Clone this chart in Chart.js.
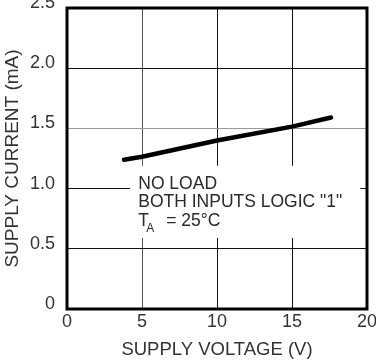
<!DOCTYPE html>
<html>
<head>
<meta charset="utf-8">
<script src="https://cdn.jsdelivr.net/npm/chart.js@4.4.1/dist/chart.umd.min.js"></script>
<style>
  html, body { margin: 0; padding: 0; background: #fff; }
  #wrap { position: relative; width: 376px; height: 360px; }
</style>
</head>
<body>
<div id="wrap"><canvas id="chart"></canvas></div>
<script>
// supply current vs supply voltage
const voltage = [3.8, 5, 10, 15, 17.6];
const current = [1.24, 1.265, 1.40, 1.515, 1.59];

const xTicks = ['0', '5', '10', '15', '20'];
const yTicks = ['0', '0.5', '1.0', '1.5', '2.0', '2.5'];

const noteLines = ['NO LOAD', 'BOTH INPUTS LOGIC "1"'];
const noteTemp = ['T', 'A', '= 25°C'];

const FAMILY = "'Liberation Sans', Arial, sans-serif";

// white label box with the test conditions + heavy frame round the plot
const framePlugin = {
  id: 'frame',
  beforeDatasetsDraw(chart) {
    const { ctx, scales: { x, y } } = chart;
    const l = x.getPixelForValue(4.2), r = x.getPixelForValue(19.55);
    const t = y.getPixelForValue(1.19), b = y.getPixelForValue(0.59);
    ctx.save();
    ctx.fillStyle = '#fff';
    ctx.fillRect(l, t, r - l, b - t);

    ctx.fillStyle = '#2a2a2a';
    ctx.textBaseline = 'alphabetic';
    ctx.textAlign = 'left';
    ctx.font = '17.5px ' + FAMILY;
    const tx = x.getPixelForValue(4.75);
    let ty = y.getPixelForValue(1.0);
    noteLines.forEach(s => { ctx.fillText(s, tx, ty); ty += 18.5; });
    ctx.fillText(noteTemp[0], tx, ty);
    ctx.font = '12px ' + FAMILY;
    ctx.fillText(noteTemp[1], tx + 8, ty + 6);
    ctx.font = '17.5px ' + FAMILY;
    ctx.fillText(noteTemp[2], tx + 28, ty);
    ctx.restore();
  },
  afterDatasetsDraw(chart) {
    const { ctx, chartArea: a } = chart;
    ctx.save();
    ctx.lineWidth = 3;
    ctx.strokeStyle = '#000';
    ctx.strokeRect(a.left, a.top, a.right - a.left, a.bottom - a.top);
    ctx.restore();
  }
};

new Chart(document.getElementById('chart'), {
  type: 'scatter',
  data: {
    datasets: [{
      data: voltage.map((v, i) => ({ x: v, y: current[i] })),
      showLine: true,
      borderColor: '#000',
      borderWidth: 4.5,
      borderCapStyle: 'round',
      pointRadius: 0,
      fill: false
    }]
  },
  options: {
    responsive: true,
    maintainAspectRatio: false,
    animation: false,
    events: [],
    layout: { padding: { top: 8, right: 9, left: 0, bottom: 0 } },
    plugins: { legend: { display: false }, tooltip: { enabled: false } },
    scales: {
      x: {
        type: 'linear',
        min: 0,
        max: 20,
        ticks: {
          stepSize: 5,
          callback: (v, i) => xTicks[i],
          color: '#333',
          font: { family: FAMILY, size: 18 },
          padding: 2,
          maxRotation: 0
        },
        grid: {
          color: c => (c.tick && c.tick.value === 5 ? '#555' : '#111'),
          lineWidth: 1,
          drawTicks: false
        },
        border: { display: false },
        title: {
          display: true,
          text: 'SUPPLY VOLTAGE (V)',
          color: '#333',
          font: { family: FAMILY, size: 18.5, lineHeight: 1 },
          padding: { top: 0, bottom: 1 }
        },
        afterFit(scale) {
          scale.height = 51;
          scale.paddingLeft = 0;
          scale.paddingRight = 0;
        }
      },
      y: {
        min: 0,
        max: 2.5,
        ticks: {
          stepSize: 0.5,
          callback: (v, i) => yTicks[i],
          color: '#333',
          font: { family: FAMILY, size: 18 },
          padding: 12,
          labelOffset: -5
        },
        grid: {
          color: c => (c.tick && c.tick.value === 1.5 ? '#999' : '#111'),
          lineWidth: 1,
          drawTicks: false
        },
        border: { display: false },
        title: {
          display: true,
          text: 'SUPPLY CURRENT (mA)',
          color: '#333',
          font: { family: FAMILY, size: 19, lineHeight: 1 },
          padding: { top: 3, bottom: 0 }
        },
        afterFit(scale) {
          scale.width = 67;
          scale.paddingTop = 0;
          scale.paddingBottom = 0;
        }
      }
    }
  },
  plugins: [framePlugin]
});
</script>
</body>
</html>
